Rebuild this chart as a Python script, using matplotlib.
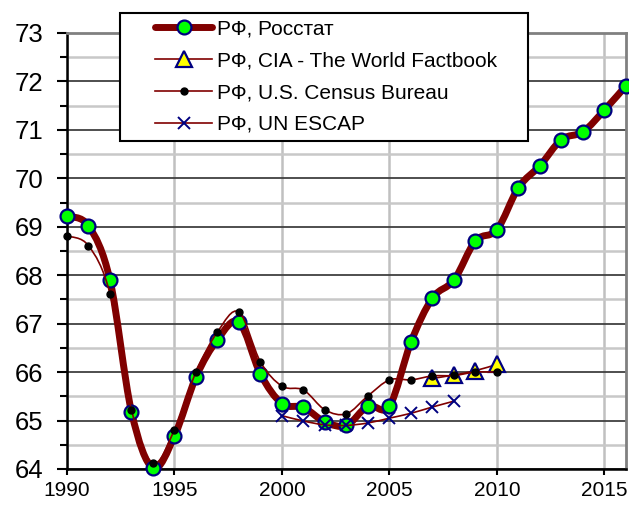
import numpy as np
import matplotlib
matplotlib.use("Agg")
import matplotlib.pyplot as plt
from matplotlib.path import Path
from matplotlib.patches import PathPatch, Rectangle
from matplotlib.lines import Line2D
from matplotlib.legend_handler import HandlerLine2D
from matplotlib.ticker import MultipleLocator

plt.rcParams['font.family'] = ['Liberation Sans', 'DejaVu Sans']

# Life expectancy in Russia, years
rosstat_years = list(range(1990, 2017))
rosstat_vals = [69.22, 69.02, 67.90, 65.18, 64.02, 64.68, 65.90, 66.67, 67.03,
                65.96, 65.35, 65.27, 64.97, 64.90, 65.30, 65.30, 66.62, 67.53,
                67.90, 68.71, 68.94, 69.81, 70.26, 70.80, 70.96, 71.41, 71.91]

cia_years = [2007, 2008, 2009, 2010]
cia_vals = [65.87, 65.94, 66.03, 66.16]

census_years = list(range(1990, 2011))
census_vals = [68.81, 68.61, 67.62, 65.22, 64.12, 64.81, 66.00, 66.83, 67.24,
               66.21, 65.71, 65.63, 65.22, 65.14, 65.51, 65.84, 65.84, 65.92,
               65.93, 66.00, 66.00]

escap_years = list(range(2000, 2009))
escap_vals = [65.10, 64.99, 64.91, 64.90, 64.95, 65.05, 65.15, 65.28, 65.40]

labels = ['РФ, Росстат', 'РФ, CIA - The World Factbook',
          'РФ, U.S. Census Bureau', 'РФ, UN ESCAP']

DARK_RED = '#800000'
NAVY = '#000080'


def smooth_path(xs, ys):
    # Excel-like smoothed line: Catmull-Rom segments as cubic Bezier curves
    pts = np.column_stack([xs, ys]).astype(float)
    verts = [pts[0]]
    codes = [Path.MOVETO]
    n = len(pts)
    for i in range(n - 1):
        p0 = pts[i - 1] if i > 0 else pts[i]
        p1 = pts[i]
        p2 = pts[i + 1]
        p3 = pts[i + 2] if i + 2 < n else pts[i + 1]
        verts += [p1 + (p2 - p0) / 6, p2 - (p3 - p1) / 6, p2]
        codes += [Path.CURVE4] * 3
    return Path(verts, codes)


class ShiftedHandler(HandlerLine2D):
    # legend line drawn a bit to the right inside the handle box
    shift = 21

    def create_artists(self, legend, orig_handle, xdescent, ydescent, width,
                       height, fontsize, trans):
        return super().create_artists(legend, orig_handle, xdescent - self.shift,
                                      ydescent, width - self.shift, height,
                                      fontsize, trans)


fig = plt.figure(figsize=(6.29, 5.05), dpi=100)
ax = fig.add_axes([0.1065, 0.0713, 0.8887, 0.8634])

green_mk = dict(marker='o', markersize=10, markerfacecolor='#00ff00',
                markeredgecolor=NAVY, markeredgewidth=1.6)
tri_mk = dict(marker='^', markersize=12, markerfacecolor='#ffff00',
              markeredgecolor=NAVY, markeredgewidth=1.6)
dot_mk = dict(marker='o', markersize=5, markerfacecolor='black',
              markeredgecolor='black')
x_mk = dict(marker='x', markersize=9, markeredgecolor=NAVY, markeredgewidth=1.4)

# Rosstat
ax.add_patch(PathPatch(smooth_path(rosstat_years, rosstat_vals), fill=False,
                       edgecolor=DARK_RED, linewidth=5, capstyle='round',
                       joinstyle='round', zorder=3))
ax.plot(rosstat_years, rosstat_vals, linestyle='none', zorder=4, clip_on=False,
        **green_mk)

# CIA
ax.add_patch(PathPatch(smooth_path(cia_years, cia_vals), fill=False,
                       edgecolor=DARK_RED, linewidth=1.2, zorder=5))
ax.plot(cia_years, cia_vals, linestyle='none', zorder=5, **tri_mk)

# Census
ax.add_patch(PathPatch(smooth_path(census_years, census_vals), fill=False,
                       edgecolor=DARK_RED, linewidth=1.2, zorder=6))
ax.plot(census_years, census_vals, linestyle='none', zorder=6, clip_on=False,
        **dot_mk)

# UN ESCAP
ax.add_patch(PathPatch(smooth_path(escap_years, escap_vals), fill=False,
                       edgecolor=DARK_RED, linewidth=1.2, zorder=7))
ax.plot(escap_years, escap_vals, linestyle='none', zorder=7, **x_mk)

ax.set_xlim(1990, 2016)
ax.set_ylim(64, 73)
ax.xaxis.set_major_locator(MultipleLocator(5))
ax.yaxis.set_major_locator(MultipleLocator(1))
ax.yaxis.set_minor_locator(MultipleLocator(0.5))

ax.grid(True, axis='x', which='major', color='#c0c0c0', linewidth=1.8, zorder=0)
ax.grid(True, axis='y', which='major', color='#404040', linewidth=1.3, zorder=0)
ax.grid(True, axis='y', which='minor', color='#c8c8c8', linewidth=1.8, zorder=0)
ax.set_axisbelow(True)

for side in ['top', 'right']:
    ax.spines[side].set_color('#808080')
    ax.spines[side].set_linewidth(2)
for side in ['left', 'bottom']:
    ax.spines[side].set_color('black')
    ax.spines[side].set_linewidth(1.8)

ax.tick_params(axis='y', which='major', direction='out', length=7, width=1.5,
               labelsize=18.5, pad=10)
ax.tick_params(axis='y', which='minor', direction='out', length=5, width=1.5)
ax.tick_params(axis='x', which='major', direction='out', length=4, width=1.5,
               labelsize=15, pad=5)

handles = [
    Line2D([], [], color=DARK_RED, linewidth=5, solid_capstyle='round', **green_mk),
    Line2D([], [], color=DARK_RED, linewidth=1.2, **tri_mk),
    Line2D([], [], color=DARK_RED, linewidth=1.2, **dot_mk),
    Line2D([], [], color=DARK_RED, linewidth=1.2, **x_mk),
]
leg = fig.legend(handles, labels, loc='upper left',
                 bbox_to_anchor=(120 / 629, 1 - 13 / 505), fontsize=15,
                 frameon=False, handlelength=4.1, handletextpad=0.25,
                 labelspacing=0.62, borderpad=0.3, borderaxespad=0,
                 handler_map={Line2D: ShiftedHandler()})
leg.set_zorder(10)

# legend box as drawn in the original (wider than the text)
fig.patches.append(Rectangle((120 / 629, 1 - 141 / 505), 408 / 629, 128 / 505,
                             transform=fig.transFigure, facecolor='white',
                             edgecolor='black', linewidth=1.5, zorder=9))

fig.savefig('out.png', dpi=100)
